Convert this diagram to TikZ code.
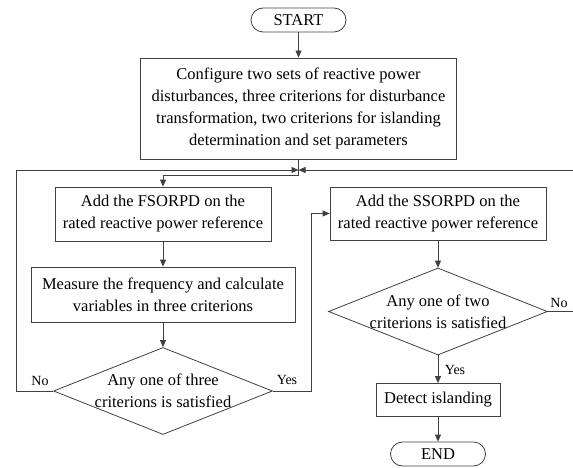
\documentclass[tikz,border=0pt]{standalone}
\usepackage{fontspec}
\setmainfont{Liberation Serif}
\usetikzlibrary{shapes.geometric,arrows.meta}
\begin{document}
\begin{tikzpicture}[x=1pt,y=-1pt,
    every node/.style={font=\fontsize{16.5}{22}\selectfont},
    box/.style={draw=black!75, line width=0.8pt, align=center, inner sep=0pt},
    term/.style={box, rounded corners=12pt, minimum width=95pt, minimum height=24pt},
    decide/.style={box, diamond, aspect=2.5, inner sep=-4pt, minimum width=219pt, minimum height=87pt},
    lbl/.style={font=\fontsize{14}{16}\selectfont},
    arr/.style={draw=black!75, line width=0.8pt, -{Triangle[length=7pt,width=6pt]}}]
    \useasboundingbox (0,0) rectangle (573,468);

    \node[term] (start) at (298.5,20) {START};
    \node[box, minimum width=316pt, minimum height=101pt] (config) at (298.5,108.5) {Configure two sets of reactive power\\disturbances, three criterions for disturbance\\transformation, two criterions for islanding\\determination and set parameters};
    \coordinate (jn) at (298.5,170);
    \node[box, minimum width=216pt, minimum height=54pt] (fsorpd) at (163,214) {Add the FSORPD on the\\rated reactive power reference};
    \node[box, minimum width=264pt, minimum height=55pt] (measure) at (163,294.5) {Measure the frequency and calculate\\variables in three criterions};
    \node[decide] (dia1) at (163,391) {Any one of three\\criterions is satisfied};
    \node[box, minimum width=216pt, minimum height=53pt] (ssorpd) at (438,213.5) {Add the SSORPD on the\\rated reactive power reference};
    \node[decide] (dia2) at (438,311.5) {Any one of two\\criterions is satisfied};
    \node[box, minimum width=124pt, minimum height=33pt] (detect) at (438,400) {Detect islanding};
    \node[term] (finish) at (438,454) {END};

    \node[lbl] (no1) at (40,381) {No};
    \node[lbl] (yes1) at (287,380) {Yes};
    \node[lbl] (no2) at (559,303) {No};
    \node[lbl] (yes2) at (455,370) {Yes};

    \draw[arr] (start) -- (config);
    \draw[arr] (config.south) -- ++(0,16) -| (fsorpd.north);
    \draw[arr] (fsorpd) -- (measure);
    \draw[arr] (measure) -- (dia1);
    \draw[arr] (dia1.west) -- ++(-37,0) |- (jn);
    \draw[arr] (dia2.east) -- ++(25,0) |- (jn);
    \draw[arr] (dia1.east) -- ++(38,0) |- (ssorpd.west);
    \draw[arr] (ssorpd) -- (dia2);
    \draw[arr] (dia2) -- (detect);
    \draw[arr] (detect) -- (finish);
\end{tikzpicture}
\end{document}
